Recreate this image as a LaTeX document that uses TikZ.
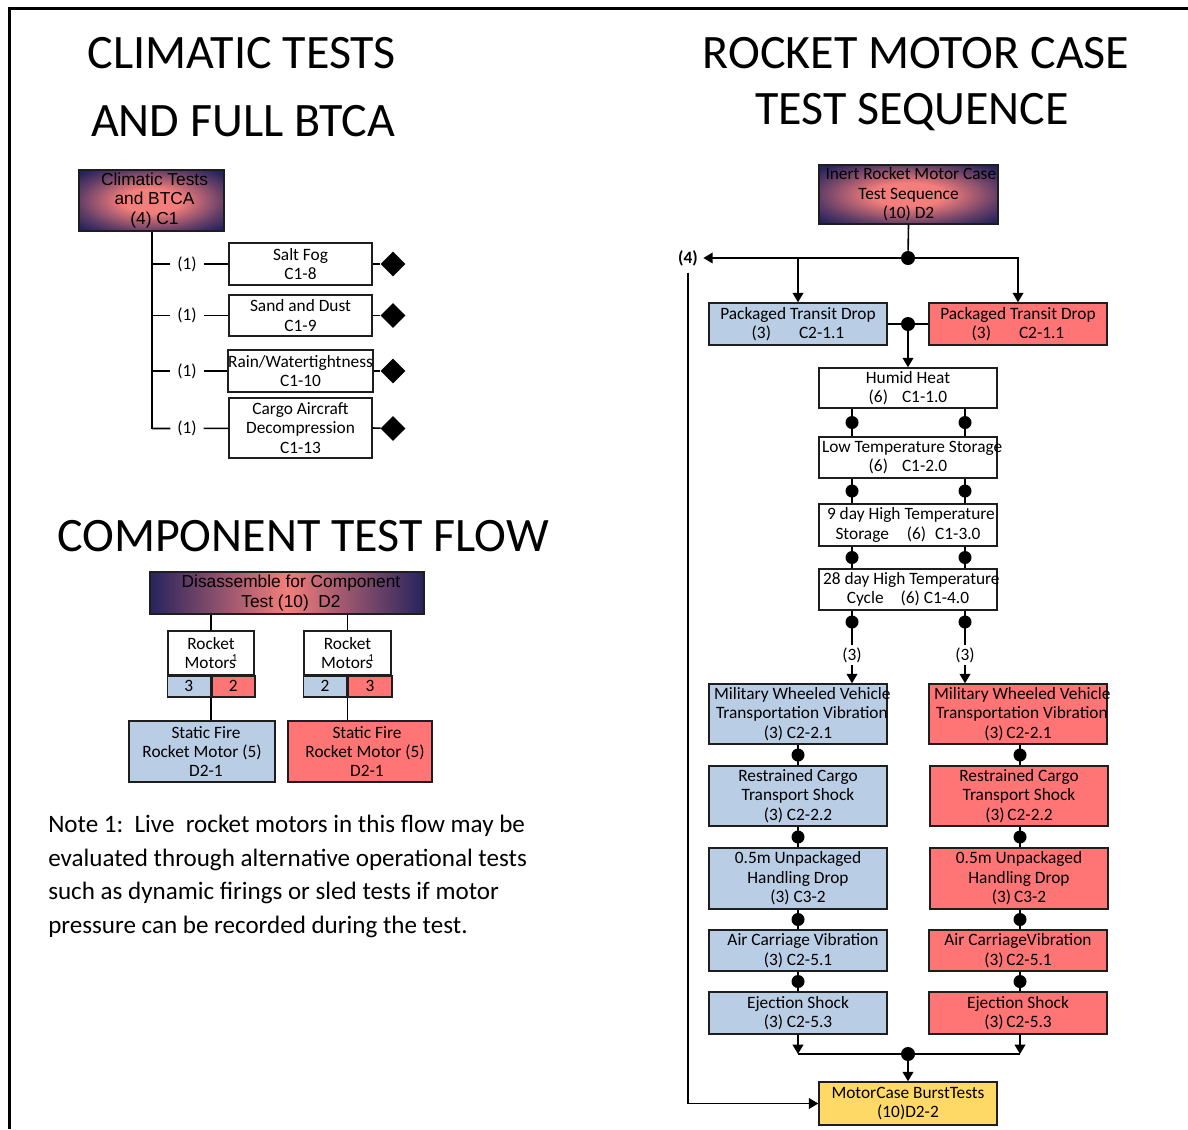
\documentclass[tikz,border=0pt]{standalone}
\usepackage{fontspec}
\setmainfont{Carlito}
\newfontfamily\arialf{Liberation Sans}
\usetikzlibrary{arrows.meta,shapes.geometric}

\definecolor{boxblue}{HTML}{B9CDE5}
\definecolor{boxred}{HTML}{FF7575}
\definecolor{boxyellow}{HTML}{FFD966}
\definecolor{deepnavy}{HTML}{26235E}
\definecolor{warmsalmon}{HTML}{F47E7B}
\definecolor{edgegray}{HTML}{1E1E1E}

% centre-to-edge glow used by the two heading boxes
\pgfdeclareradialshading{glow}{\pgfpoint{0bp}{0bp}}{%
  color(0bp)=(warmsalmon); color(10bp)=(warmsalmon);
  color(25bp)=(deepnavy!70!warmsalmon); color(33bp)=(deepnavy); color(50bp)=(deepnavy)}

\newdimen\px \px=0.75pt

\tikzset{
  sz/.style 2 args={minimum width=#1*0.75pt, minimum height=#2*0.75pt},
  cellbox/.style={draw=edgegray, line width=1.5*0.75pt, inner sep=0pt, align=center,
    font=\fontsize{13}{14.6}\selectfont},
  box/.style={cellbox, execute at begin node={\rule{0pt}{13.5pt}}},
  gbox/.style={box, font=\arialf\fontsize{13}{14.3}\selectfont},
  head/.style={font=\fontsize{36}{40}\selectfont, inner sep=0pt, anchor=base},
  wire/.style={line width=1.6*0.75pt, draw=black},
  arr/.style={wire, -{Triangle[length=7pt,width=8pt]}},
  dot/.style={circle, fill=black, inner sep=0pt, minimum size=14*0.75pt},
  smalldot/.style={circle, fill=black, inner sep=0pt, minimum size=13*0.75pt},
  gem/.style={diamond, fill=black, inner sep=0pt, minimum width=25*0.75pt, minimum height=25*0.75pt},
  tag/.style={font=\fontsize{13}{14.6}\selectfont, inner sep=2pt},
}
\newcommand\notemark{\kern-3pt\raisebox{0.9ex}{\fontsize{8}{8}\selectfont 1}}
% a line set from a fixed left edge, free to run past the right border
\newcommand\fromleft[2]{\makebox[#1\px][l]{#2}}

\begin{document}
\begin{tikzpicture}[x=0.75pt, y=-0.75pt]
\useasboundingbox (0,0) rectangle (1188,1129);

% page frame
\draw[line width=3*0.75pt] (9.5,1129) -- (9.5,8) -- (1188,8);

% ---------------- headings ----------------
\node[head] (hA) at (242,68) {CLIMATIC TESTS};
\node[head] (hB) at (243,136) {AND FULL BTCA};
\node[head] (hC) at (303,551) {COMPONENT TEST FLOW};
\node[head] (hD) at (916,68) {ROCKET MOTOR CASE};
\node[head] (hE) at (912,124) {TEST SEQUENCE};

% ---------------- climatic tests ----------------
\node[gbox, sz={145}{61}, shading=glow] (clim) at (151.5,200.5) {\hspace*{6\px}Climatic Tests\\\hspace*{6\px}and BTCA\\\hspace*{6\px}(4) C1};

\node[box, sz={143}{42}] (salt)  at (300.5,264)   {Salt Fog\\C1-8};
\node[box, sz={143}{41}] (sand)  at (300.5,315.5) {Sand and Dust\\C1-9};
\node[box, sz={143}{42}] (rain)  at (300.5,371)   {Rain/Watertightness\\C1-10};
\node[box, sz={143}{60}] (cargo) at (300.5,428)   {Cargo Aircraft\\Decompression\\C1-13};

\foreach \b/\y [count=\i] in {salt/264, sand/315.5, rain/371, cargo/428.5}{
  \coordinate (t\i) at (152,\y);
  \node[tag, inner xsep=5pt] (q\i) at (187,\y) {(1)};
  \node[gem] (g\i) at (393,\y) {};
  \draw[wire] (t\i) -- (q\i) -- (\b);
  \draw[wire] (\b.east) -- (g\i);
}
\draw[wire] (clim.south -| t1) -- (t4);

% ---------------- component test flow ----------------
\node[gbox, sz={274}{42}, left color=deepnavy, right color=deepnavy, middle color=warmsalmon]
  (dis) at (287,593) {\hspace*{8\px}Disassemble for Component\\\hspace*{8\px}Test (10)\ \ D2};

\node[box, sz={86}{44}] (rmL) at (211,653) {Rocket\\Motors\notemark};
\node[cellbox, sz={43}{21}, fill=boxblue, anchor=north east] (rmLb) at (211,675) {3};
\node[cellbox, sz={43}{21}, fill=boxred,  anchor=north west] (rmLr) at (211,675) {2};

\node[box, sz={87}{44}] (rmR) at (347.5,653) {Rocket\\Motors\notemark};
\node[cellbox, sz={43.5}{21}, fill=boxblue, anchor=north east] (rmRb) at (347.5,675) {2};
\node[cellbox, sz={43.5}{21}, fill=boxred,  anchor=north west] (rmRr) at (347.5,675) {3};

\node[box, sz={146}{61}, fill=boxblue] (sfL) at (202,751.5) {\hspace*{8\px}Static Fire\\Rocket Motor (5)\\\hspace*{8\px}D2-1};
\node[box, sz={144}{61}, fill=boxred]  (sfR) at (360,751.5) {\hspace*{14\px}Static Fire\\\hspace*{10\px}Rocket Motor (5)\\\hspace*{14\px}D2-1};

\draw[wire] (dis.south -| rmL.north) -- (rmL.north);
\draw[wire] (dis.south -| rmR.north) -- (rmR.north);
\draw[wire] (rmLb.south east) -- (rmLb.south east |- sfL.north);
\draw[wire] (rmRb.south east) -- (rmRb.south east |- sfR.north);

\node[anchor=north west, align=left, inner sep=0pt, font=\fontsize{18.8}{25.2}\selectfont]
  (note) at (48,815) {Note 1:\ \ Live\ \ rocket motors in this flow may be\\
  evaluated through alternative operational tests\\
  such as dynamic firings or sled tests if motor\\
  pressure can be recorded during the test.};

% ---------------- rocket motor case sequence ----------------
\node[box, sz={179}{59}, shading=glow] (inert) at (908.5,194.5)
  {\fromleft{170}{\hspace*{2\px}Inert Rocket Motor Case}\\Test Sequence\\(10) D2};

\node[dot] (d0) at (908,258) {};
\node[font=\bfseries\fontsize{13}{14.6}\selectfont, inner xsep=4pt, inner ysep=5pt] (q4) at (688,258) {(4)};

\node[box, sz={178}{42}, fill=boxblue] (ptdL) at (798,324) {Packaged Transit Drop\\(3)\hspace{28\px}C2-1.1};
\node[box, sz={178}{42}, fill=boxred]  (ptdR) at (1018,324) {Packaged Transit Drop\\(3)\hspace{28\px}C2-1.1};
\node[dot] (d1) at (908,324) {};

\node[box, sz={178}{40}] (humid) at (908,388)   {Humid Heat\\(6)\hspace{14\px}C1-1.0};
\node[box, sz={178}{41}] (low)   at (908,457.5) {\fromleft{172}{Low Temperature Storage}\\(6)\hspace{14\px}C1-2.0};
\node[box, sz={178}{42}] (nine)  at (908,525)   {\fromleft{170}{\hspace*{4\px}9 day High Temperature}\\Storage\hspace{18\px}(6)\hspace{9\px}C1-3.0};
\node[box, sz={178}{41}] (twe)   at (908,589.5) {\fromleft{170}{28 day High Temperature}\\Cycle\hspace{17\px}(6) C1-4.0};

\draw[wire] (inert.south) -- (d0);
\draw[arr] (d0) -- (q4.east);
\draw[arr] (ptdL.north |- d0) -- (ptdL.north);
\draw[arr] (d0) -| (ptdR.north);
\draw[wire] (ptdL.east) -- (ptdR.west);
\draw[arr] (d1) -- (humid.north);

% paired links down the climatic column
\foreach \u/\v/\y [count=\i] in {humid/low/422.5, low/nine/491, nine/twe/557.5}{
  \node[smalldot] (pl\i) at (852,\y) {};
  \node[smalldot] (pr\i) at (965,\y) {};
  \draw[wire] (\u.south -| pl\i) -- (\v.north -| pl\i);
  \draw[wire] (\u.south -| pr\i) -- (\v.north -| pr\i);
}
\node[smalldot] (pl4) at (852,622) {};
\node[smalldot] (pr4) at (965,622) {};
\node[tag] (s3L) at (852,655) {(3)};
\node[tag] (s3R) at (965,655) {(3)};

% left (blue) column
\node[box, sz={178}{60}, fill=boxblue] (mwvL) at (798,714)
  {\fromleft{168}{Military Wheeled Vehicle}\\\fromleft{168}{\hspace*{2\px}Transportation Vibration}\\(3) C2-2.1};
\node[box, sz={178}{60}, fill=boxblue] (rcL)  at (798,796)   {Restrained Cargo\\Transport Shock\\(3) C2-2.2};
\node[box, sz={178}{61}, fill=boxblue] (udL)  at (798,878.5) {0.5m Unpackaged\\Handling Drop\\(3) C3-2};
\node[box, sz={178}{41}, fill=boxblue] (acL)  at (798,950.5) {\hspace*{10\px}Air Carriage Vibration\\(3) C2-5.1};
\node[box, sz={178}{42}, fill=boxblue] (ejL)  at (798,1013)  {Ejection Shock\\(3) C2-5.3};

% right (red) column
\node[box, sz={178}{60}, fill=boxred] (mwvR) at (1018,714)
  {\fromleft{168}{Military Wheeled Vehicle}\\\fromleft{168}{\hspace*{2\px}Transportation Vibration}\\(3)\,C2-2.1};
\node[box, sz={178}{60}, fill=boxred] (rcR)  at (1019,796)   {Restrained Cargo\\Transport Shock\\(3)\,C2-2.2};
\node[box, sz={178}{61}, fill=boxred] (udR)  at (1019,878.5) {0.5m Unpackaged\\Handling Drop\\(3)\,C3-2};
\node[box, sz={178}{41}, fill=boxred] (acR)  at (1018,950.5) {Air CarriageVibration\\(3)\,C2-5.1};
\node[box, sz={178}{42}, fill=boxred] (ejR)  at (1018,1013)  {Ejection Shock\\(3)\,C2-5.3};

\foreach \u/\v/\y [count=\i] in {mwv/rc/755, rc/ud/837, ud/ac/919.5, ac/ej/981.5}{
  \node[smalldot] (cl\i) at (798,\y) {};
  \node[smalldot] (cr\i) at (1020,\y) {};
  \draw[wire] (\u L.south -| cl\i) -- (\v L.north -| cl\i);
  \draw[wire] (\u R.south -| cr\i) -- (\v R.north -| cr\i);
}

\draw[wire] (twe.south -| pl4) -- (s3L);
\draw[wire] (twe.south -| pr4) -- (s3R);
\draw[arr] (s3L) -- (s3L |- mwvL.north);
\draw[arr] (s3R) -- (s3R |- mwvR.north);

% merge into the burst tests
\node[box, sz={178}{43}, fill=boxyellow] (burst) at (908,1103.5) {MotorCase BurstTests\\(10)D2-2};
\node[dot] (d2) at (908,1054) {};
\coordinate (mL) at (798,1054);
\coordinate (mR) at (1020,1054);
\draw[arr] (ejL.south) -- (mL);
\draw[arr] (ejR.south -| mR) -- (mR);
\draw[wire] (mL) -- (mR);
\draw[arr] (d2) -- (burst.north);

% side path for the four reserved cases
\draw[arr] (q4.south) |- (burst.west);
\end{tikzpicture}
\end{document}
